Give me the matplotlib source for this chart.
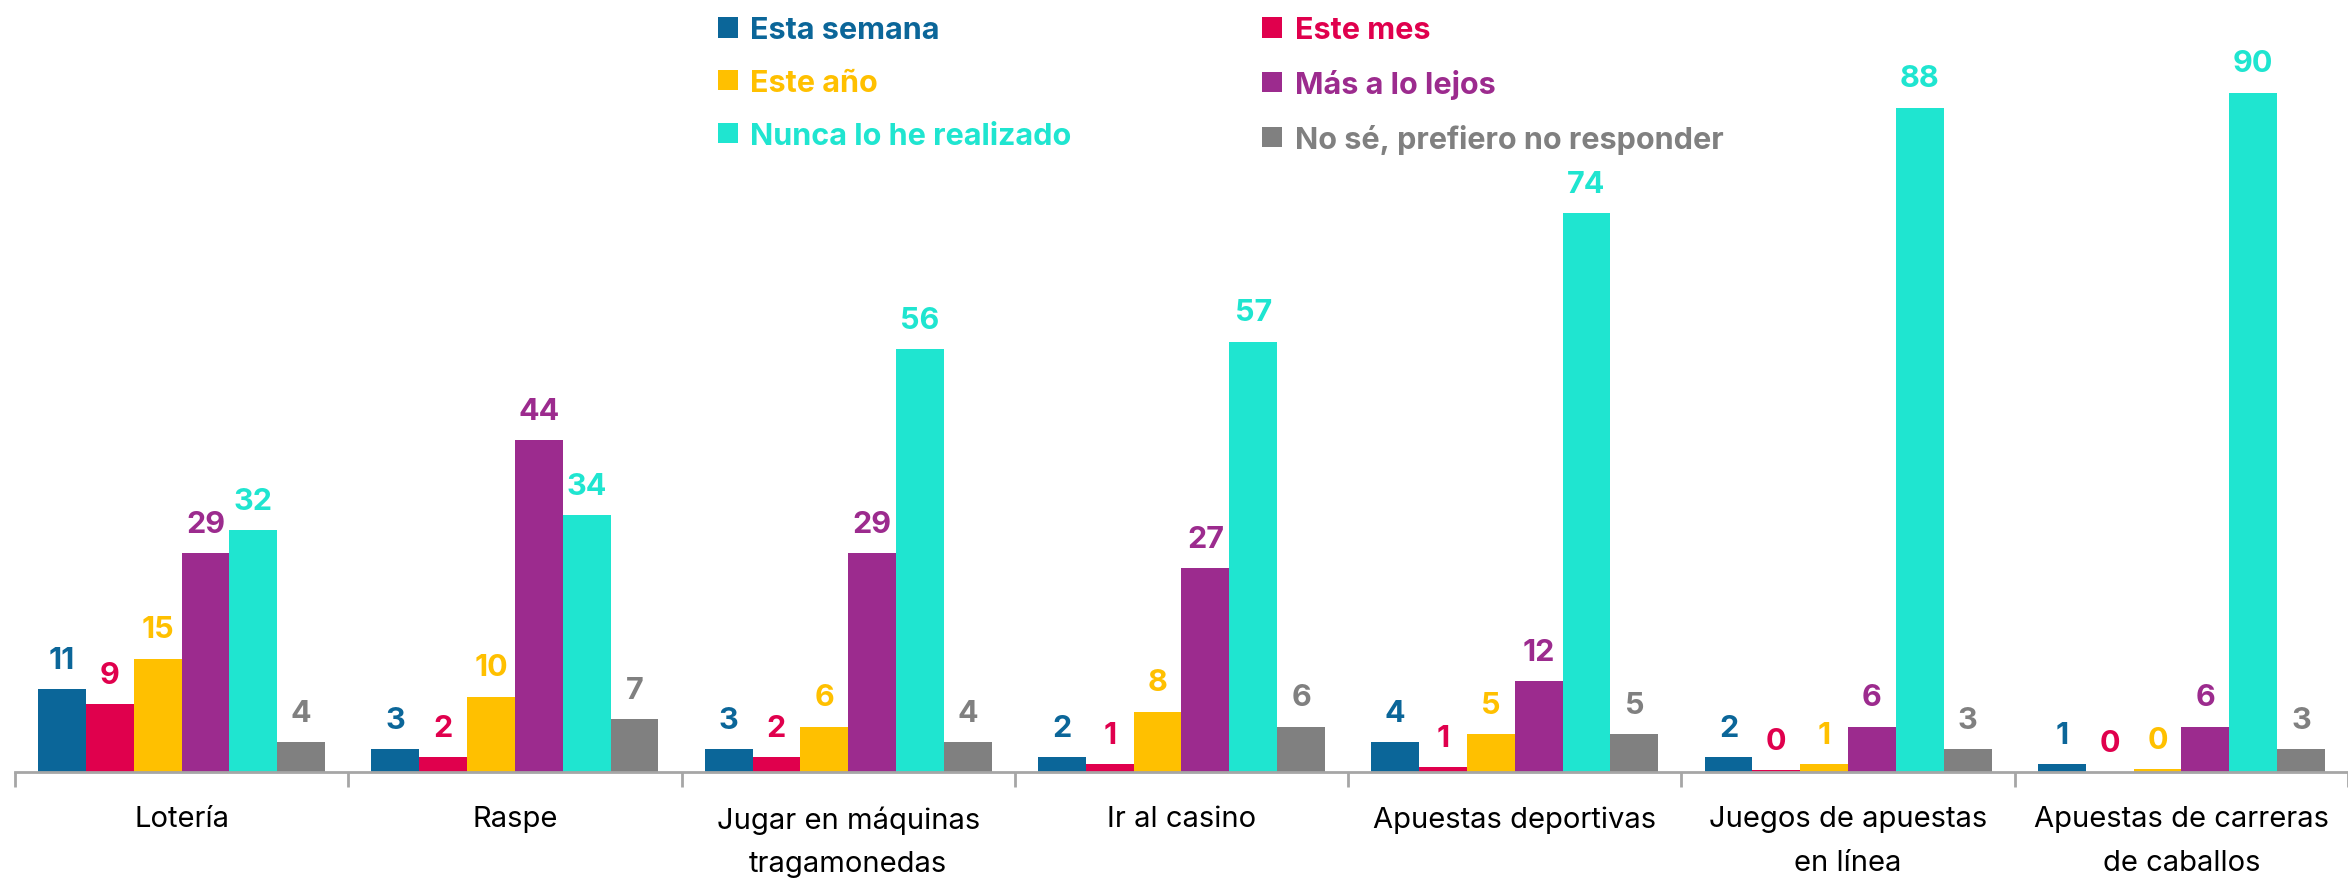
import matplotlib
matplotlib.use("Agg")
import matplotlib.pyplot as plt
import numpy as np
from matplotlib.patches import Patch

categories = ["Lotería", "Raspe", "Jugar en máquinas\ntragamonedas", "Ir al casino",
              "Apuestas deportivas", "Juegos de apuestas\nen línea",
              "Apuestas de carreras\nde caballos"]
series_names = ["Esta semana", "Este mes", "Este año", "Más a lo lejos",
                "Nunca lo he realizado", "No sé, prefiero no responder"]
esta_semana = [11, 3, 3, 2, 4, 2, 1]
este_mes = [9, 2, 2, 1, 0.6, 0.2, 0]
este_anio = [15, 10, 6, 8, 5, 1, 0.4]
mas_lejos = [29, 44, 29, 27, 12, 6, 6]
nunca = [32, 34, 56, 57, 74, 88, 90]
no_se = [4, 7, 4, 6, 5, 3, 3]
series = [esta_semana, este_mes, este_anio, mas_lejos, nunca, no_se]
colors = ["#0B6699", "#E0004D", "#FFC000", "#9C2B8E", "#1FE5D0", "#808080"]

plt.rcParams['font.family'] = ['Inter', 'DejaVu Sans']

W, H = 2348, 879
fig = plt.figure(figsize=(W / 100, H / 100), dpi=100)
ax = fig.add_axes([0, 1 - 773 / H, 1, 773 / H])

x = np.arange(len(categories))
bw = 0.1435
n = len(series)
for i, (vals, c) in enumerate(zip(series, colors)):
    pos = x + (i - (n - 1) / 2) * bw
    ax.bar(pos, vals, width=bw, color=c, linewidth=0)
    for xp, v in zip(pos, vals):
        ax.annotate(f"{round(v):d}", (xp, v), xytext=(0, 11), textcoords="offset points",
                    ha="center", va="bottom", fontsize=22, fontweight="bold", color=c)

ax.set_xlim(-0.545, 6.5)
ax.set_ylim(0, 102.4)
for s in ["top", "right", "left"]:
    ax.spines[s].set_visible(False)
ax.spines["bottom"].set_color("#A6A6A6")
ax.spines["bottom"].set_linewidth(2)
ax.spines["bottom"].set_bounds(-0.5, 6.5)
ax.set_yticks([])
ax.set_xticks(x)
ax.set_xticklabels(categories, fontsize=21, linespacing=1.78)
ax.tick_params(axis="x", which="major", length=0, pad=24)
ax.set_xticks(np.arange(-0.5, 7.0, 1.0), minor=True)
ax.tick_params(axis="x", which="minor", length=11, width=2, color="#A6A6A6")

order = [0, 2, 4, 1, 3, 5]
handles = [Patch(facecolor=colors[i], edgecolor="none") for i in order]
labels = [series_names[i] for i in order]
leg = ax.legend(handles, labels, ncol=2, loc="upper left",
                bbox_to_anchor=(709 / W, 1.0 - 8 / 773),
                frameon=False, fontsize=22, handlelength=0.65, handleheight=0.65,
                handletextpad=0.4, columnspacing=6.25, labelspacing=0.81,
                borderaxespad=0.0, borderpad=0.3)
for t, i in zip(leg.get_texts(), order):
    t.set_color(colors[i])
    t.set_fontweight("bold")

fig.savefig("out.png", dpi=100)
